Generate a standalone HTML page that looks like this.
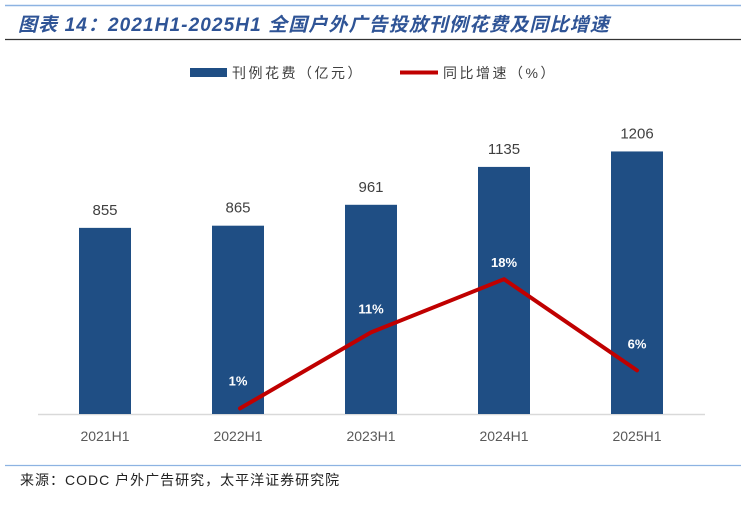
<!DOCTYPE html>
<html><head><meta charset="utf-8"><style>
body{margin:0;width:741px;height:504px;background:#fff;overflow:hidden;font-family:"Liberation Sans","Noto Sans CJK SC",sans-serif}
</style></head><body>
<svg width="741" height="504" xmlns="http://www.w3.org/2000/svg">
<line x1="5" y1="5.5" x2="741" y2="5.5" stroke="#8db3e2" stroke-width="1.5"/>
<text x="18" y="31" font-size="19" font-weight="bold" font-style="italic" fill="#2f5496" letter-spacing="1.1" font-family="Liberation Sans,Noto Sans CJK SC,sans-serif">图表 14：2021H1-2025H1 全国户外广告投放刊例花费及同比增速</text>
<line x1="5" y1="39.5" x2="741" y2="39.5" stroke="#333" stroke-width="1.2"/>
<g>
<rect x="190" y="68" width="37" height="9" fill="#1f4e84"/>
<text x="232" y="78" font-size="14" fill="#404040" letter-spacing="2.5">刊例花费（亿元）</text>
<line x1="400" y1="72.5" x2="438" y2="72.5" stroke="#c00000" stroke-width="4"/>
<text x="443" y="78" font-size="14" fill="#404040" letter-spacing="2.5">同比增速（%）</text>
</g>
<line x1="38" y1="414.5" x2="705" y2="414.5" stroke="#d9d9d9" stroke-width="1.5"/>
<g id="bars"></g><g id="line"></g><g id="labels"></g>
<line x1="5" y1="465.5" x2="741" y2="465.5" stroke="#8db3e2" stroke-width="1.2"/>
<text x="20" y="485" font-size="14" fill="#222" letter-spacing="1">来源：CODC 户外广告研究，太平洋证券研究院</text>
</svg>
<script>
const categories=["2021H1","2022H1","2023H1","2024H1","2025H1"];
const spend=[855,865,961,1135,1206];
const growth=[null,1,11,18,6];
const growthLabels=["","1%","11%","18%","6%"];
const NS="http://www.w3.org/2000/svg";
function xc(i){return 105+i*133;}
function yb(v){return 414-v*0.2177;}
function yl(v){return 416-v*7.6;}
function mk(t,a,p){const e=document.createElementNS(NS,t);for(const k in a)e.setAttribute(k,a[k]);document.getElementById(p).appendChild(e);return e;}
const offs=[0,23,19,12,22];
let pts=[];
categories.forEach((c,i)=>{
 const r=mk('rect',{x:xc(i)-26,y:yb(spend[i]),width:52,height:414-yb(spend[i]),fill:'#1f4e84'},'bars');
 
 
 const t=mk('text',{x:xc(i),y:yb(spend[i])-13,'font-size':15,fill:'#404040','text-anchor':'middle'},'labels');t.textContent=spend[i];
 
 
 const xl=mk('text',{x:xc(i),y:441,'font-size':14,fill:'#595959','text-anchor':'middle'},'labels');xl.textContent=c;
 
 
 if(growth[i]!==null){pts.push(xc(i)+(i==1?2:0)+','+yl(growth[i]));
  const g=mk('text',{x:xc(i),y:yl(growth[i])-offs[i],'font-size':13,'font-weight':'bold',fill:'#fff','text-anchor':'middle'},'labels');g.textContent=growthLabels[i];
  
  }
});
const pl=mk('polyline',{points:pts.join(' '),fill:'none',stroke:'#c00000','stroke-width':4,'stroke-linecap':'round','stroke-linejoin':'round'},'line');


</script>
</body></html>
